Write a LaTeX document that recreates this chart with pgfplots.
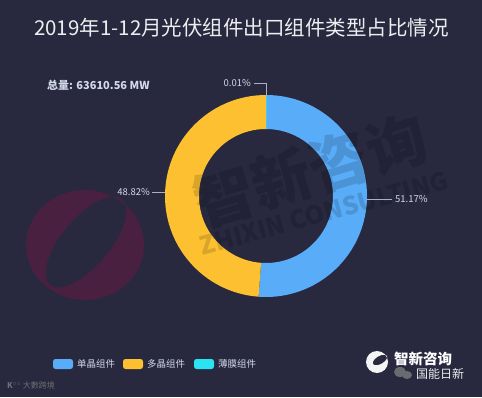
\documentclass[border=0pt]{standalone}
\usepackage{fontspec}
\setmainfont{Noto Sans CJK SC}
\usepackage{pgfplots}
\pgfplotsset{compat=1.18}
\usepackage{pgfplotstable}
\definecolor{bg}{HTML}{28283F}
\definecolor{cblue}{HTML}{58ACF8}
\definecolor{cyellow}{HTML}{FCC030}
\definecolor{ccyan}{HTML}{2CE3F2}
\definecolor{ctext}{HTML}{D3D9E8}
\definecolor{cline}{HTML}{A9B0C4}
\definecolor{cred}{HTML}{4A2040}
\pgfplotstableread{
idx value
0 51.17
1 48.82
2 0.01
}\pietable
\newcommand\ringseg[3]{%
  \fill[#1] (axis cs:{266+101*cos(#2)},{201+101*sin(#2)}) arc[start angle=#2,end angle=#3,radius=101pt]
   -- (axis cs:{266+67*cos(#3)},{201+67*sin(#3)}) arc[start angle=#3,end angle=#2,radius=67pt] -- cycle;}
\begin{document}
\begin{tikzpicture}
\pgfplotstablegetelem{0}{value}\of\pietable \let\va\pgfplotsretval
\pgfplotstablegetelem{1}{value}\of\pietable \let\vb\pgfplotsretval
\pgfplotstablegetelem{2}{value}\of\pietable \let\vc\pgfplotsretval
\pgfmathsetmacro\aA{90}
\pgfmathsetmacro\aB{\aA-3.6*\va}
\pgfmathsetmacro\aC{\aB-3.6*\vb}
\pgfmathsetmacro\aD{\aC-3.6*\vc}
\begin{axis}[x=1pt,y=1pt,xmin=0,xmax=482,ymin=0,ymax=397,hide axis,clip=false,scale only axis]
\fill[bg] (axis cs:0,0) rectangle (axis cs:482,397);
% faint red logo watermark
\fill[cred, even odd rule] (axis cs:85,152) ellipse[x radius=59pt, y radius=55pt]
   (axis cs:86,155) ellipse[x radius=56pt, y radius=24pt, rotate=50];
% ring
\ringseg{cblue}{\aA}{\aB}
\ringseg{cyellow}{\aB}{\aC}
\ringseg{ccyan}{\aC-0.4}{\aD}
% watermark
\node[rotate=17, text=black, opacity=0.14, font=\fontsize{60}{60}\selectfont\bfseries, inner sep=0] at (axis cs:310,227) {智新咨询};
\node[rotate=15, text=black, opacity=0.14, font=\fontsize{25}{25}\selectfont\bfseries, inner sep=0] at (axis cs:324,184) {ZHIXIN CONSULTING};
% title
\node[text=white!92!bg, font=\fontsize{20.5}{24}\selectfont, inner sep=0] at (axis cs:241.5,369) {2019年1-12月光伏组件出口组件类型占比情况};
\node[text=ctext, font=\fontsize{11}{12}\selectfont\bfseries, anchor=west, inner sep=0] at (axis cs:47,312) {总量: 63610.56 MW};
% leader lines and labels
\draw[cline, line width=0.6pt] (axis cs:266,302) -- (axis cs:266,314) -- (axis cs:254,314);
\node[text=ctext, font=\fontsize{9.5}{10}\selectfont, anchor=east, inner sep=0] at (axis cs:251,314) {0.01\%};
\draw[cline, line width=0.6pt] (axis cs:165,205) -- (axis cs:152,205);
\node[text=ctext, font=\fontsize{9.5}{10}\selectfont, anchor=east, inner sep=0] at (axis cs:150,205) {48.82\%};
\draw[cline, line width=0.6pt] (axis cs:367,198) -- (axis cs:392,198);
\node[text=ctext, font=\fontsize{9.5}{10}\selectfont, anchor=west, inner sep=0] at (axis cs:395,198) {51.17\%};
% legend
\fill[cblue, rounded corners=2.5pt] (axis cs:53,28) rectangle (axis cs:73,38);
\node[text=ctext, font=\fontsize{9.5}{10}\selectfont, anchor=west, inner sep=0] at (axis cs:77,33) {单晶组件};
\fill[cyellow, rounded corners=2.5pt] (axis cs:123,28) rectangle (axis cs:143,38);
\node[text=ctext, font=\fontsize{9.5}{10}\selectfont, anchor=west, inner sep=0] at (axis cs:147,33) {多晶组件};
\fill[ccyan, rounded corners=2.5pt] (axis cs:194,28) rectangle (axis cs:214,38);
\node[text=ctext, font=\fontsize{9.5}{10}\selectfont, anchor=west, inner sep=0] at (axis cs:218,33) {薄膜组件};
% bottom-left logo text
\node[text=gray!80!bg, font=\fontsize{8}{9}\selectfont, anchor=west, inner sep=0] at (axis cs:7,12) {\textbf{K}$^{\circ\circ}$ 大數跨境};
% bottom-right logo
\fill[white!95!bg, even odd rule] (axis cs:377,35) circle[radius=11pt] (axis cs:380,37) ellipse[x radius=8pt, y radius=4pt, rotate=30];
\fill[gray!75!bg] (axis cs:400,25) ellipse[x radius=6pt, y radius=5pt];
\fill[gray!75!bg] (axis cs:407,22) ellipse[x radius=5pt, y radius=4pt];
\node[text=white, font=\fontsize{14.5}{16}\selectfont\bfseries, anchor=west, inner sep=0] at (axis cs:394,38) {智新咨询};
\node[text=white!90!bg, font=\fontsize{12}{13}\selectfont, anchor=west, inner sep=0] at (axis cs:416,23) {国能日新};
\end{axis}
\end{tikzpicture}
\end{document}
